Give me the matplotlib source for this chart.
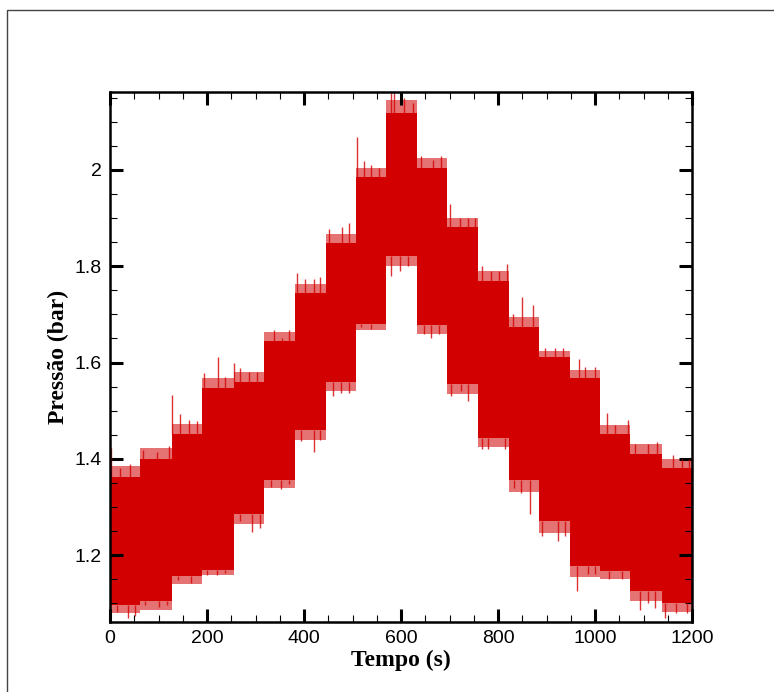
import matplotlib
matplotlib.use("Agg")
import matplotlib.pyplot as plt
import numpy as np
from matplotlib.patches import Rectangle
from matplotlib.ticker import MultipleLocator

# ---- data (step segments of the pressure signal) ----
step_edges = [0, 62, 128, 190, 255, 317, 381, 445, 507, 569, 632, 695,
              759, 822, 884, 948, 1010, 1072, 1138, 1200]
# solid band envelope per segment
upper = [1.363, 1.400, 1.452, 1.548, 1.560, 1.644, 1.744, 1.848, 1.985, 2.119,
         2.004, 1.881, 1.770, 1.674, 1.611, 1.567, 1.452, 1.411, 1.381]
lower = [1.096, 1.104, 1.156, 1.170, 1.285, 1.356, 1.459, 1.559, 1.681, 1.822,
         1.678, 1.556, 1.444, 1.356, 1.270, 1.178, 1.167, 1.126, 1.100]
# spiky fringe level per segment
upper_fringe = [1.385, 1.422, 1.472, 1.568, 1.580, 1.664, 1.764, 1.868, 2.005, 2.145,
                2.024, 1.900, 1.790, 1.694, 1.625, 1.585, 1.470, 1.430, 1.400]
lower_fringe = [1.080, 1.085, 1.140, 1.158, 1.265, 1.340, 1.440, 1.540, 1.668, 1.800,
                1.660, 1.535, 1.425, 1.332, 1.245, 1.155, 1.150, 1.105, 1.082]
# individual spikes above the band (time s, pressure bar)
spike_up_t = [3, 21, 41, 69, 97, 121, 128, 145, 162, 179, 193, 222, 238, 255, 269, 286,
              303, 338, 355, 369, 386, 403, 421, 434, 452, 479, 493, 509, 524, 538, 555,
              579, 586, 607, 624, 641, 665, 683, 702, 721, 738, 752, 766, 786, 803, 819,
              831, 849, 872, 897, 917, 934, 966, 979, 1000, 1024, 1041, 1069, 1083, 1110,
              1128, 1161, 1179, 1193]
spike_up_p = [1.422, 1.381, 1.389, 1.419, 1.415, 1.426, 1.533, 1.493, 1.481, 1.478, 1.578,
              1.611, 1.570, 1.600, 1.589, 1.581, 1.581, 1.667, 1.652, 1.667, 1.785, 1.774,
              1.774, 1.778, 1.878, 1.881, 1.889, 2.068, 2.019, 2.011, 2.004, 2.160, 2.160,
              2.150, 2.140, 2.030, 2.020, 2.030, 1.930, 1.900, 1.900, 1.900, 1.800, 1.790,
              1.790, 1.804, 1.700, 1.737, 1.719, 1.630, 1.630, 1.630, 1.607, 1.590, 1.590,
              1.496, 1.470, 1.480, 1.430, 1.430, 1.435, 1.407, 1.400, 1.400]
# individual spikes below the band
spike_dn_t = [14, 38, 52, 72, 100, 117, 141, 166, 200, 221, 238, 269, 293, 310, 331, 352,
              369, 393, 421, 434, 459, 476, 493, 517, 538, 579, 597, 614, 648, 662, 679,
              703, 724, 738, 766, 779, 814, 834, 848, 866, 890, 924, 938, 962, 986, 1000,
              1028, 1055, 1093, 1110, 1124, 1145, 1166, 1190]
spike_dn_p = [1.081, 1.070, 1.074, 1.096, 1.093, 1.096, 1.148, 1.141, 1.159, 1.159, 1.163,
              1.270, 1.248, 1.256, 1.341, 1.337, 1.348, 1.437, 1.415, 1.440, 1.530, 1.537,
              1.537, 1.674, 1.670, 1.780, 1.790, 1.800, 1.660, 1.650, 1.660, 1.530, 1.540,
              1.520, 1.420, 1.420, 1.420, 1.340, 1.330, 1.285, 1.240, 1.230, 1.240, 1.126,
              1.160, 1.160, 1.150, 1.150, 1.085, 1.100, 1.090, 1.070, 1.080, 1.080]

xticks = [0, 200, 400, 600, 800, 1000, 1200]
yticks = [1.2, 1.4, 1.6, 1.8, 2.0]
ytick_labels = ["1.2", "1.4", "1.6", "1.8", "2"]

RED = "#d20000"

W, H = 774, 692
fig = plt.figure(figsize=(W / 100, H / 100), dpi=100)
ax = fig.add_axes([110 / W, 1 - 622 / H, (692 - 110) / W, (622 - 92) / H])

edges = np.array(step_edges, dtype=float)
up_s = np.append(upper, upper[-1])
lo_s = np.append(lower, lower[-1])
upf_s = np.append(upper_fringe, upper_fringe[-1])
lof_s = np.append(lower_fringe, lower_fringe[-1])

ax.fill_between(edges, lof_s, upf_s, step="post", color=RED, alpha=0.55, lw=0)
ax.fill_between(edges, lo_s, up_s, step="post", color=RED, lw=0)

seg_idx_up = np.clip(np.searchsorted(edges, spike_up_t, side="right") - 1, 0, len(upper) - 1)
seg_idx_dn = np.clip(np.searchsorted(edges, spike_dn_t, side="right") - 1, 0, len(lower) - 1)
ax.vlines(spike_up_t, np.array(upper)[seg_idx_up], spike_up_p, color=RED, lw=1.0, alpha=0.8)
ax.vlines(spike_dn_t, spike_dn_p, np.array(lower)[seg_idx_dn], color=RED, lw=1.0, alpha=0.8)

ax.set_xlim(0, 1200)
ax.set_ylim(1.061, 2.162)

ax.set_xticks(xticks)
ax.set_yticks(yticks)
ax.set_yticklabels(ytick_labels)
ax.xaxis.set_minor_locator(MultipleLocator(50))
ax.yaxis.set_minor_locator(MultipleLocator(0.05))

ax.tick_params(which="both", direction="in", top=True, right=True,
               labelsize=14, pad=6)
ax.tick_params(which="major", length=9.5, width=2.2)
ax.tick_params(which="minor", length=5, width=0.8)
for lab in ax.get_xticklabels() + ax.get_yticklabels():
    lab.set_fontfamily("Liberation Sans")

for sp in ax.spines.values():
    sp.set_linewidth(1.8)

ax.set_xlabel("Tempo (s)", fontfamily="Liberation Serif", fontweight="bold",
              fontsize=17, labelpad=2)
ax.set_ylabel("Pressão (bar)", fontfamily="Liberation Serif", fontweight="bold",
              fontsize=17, labelpad=4)

# outer frame of the figure (extends past right and bottom edges)
fig.patches.append(Rectangle((7 / W, -0.05), 1.2, 1 - 10 / H + 0.05,
                             transform=fig.transFigure, fill=False,
                             edgecolor="#444444", lw=1.0))

fig.savefig("out.png", dpi=100)
